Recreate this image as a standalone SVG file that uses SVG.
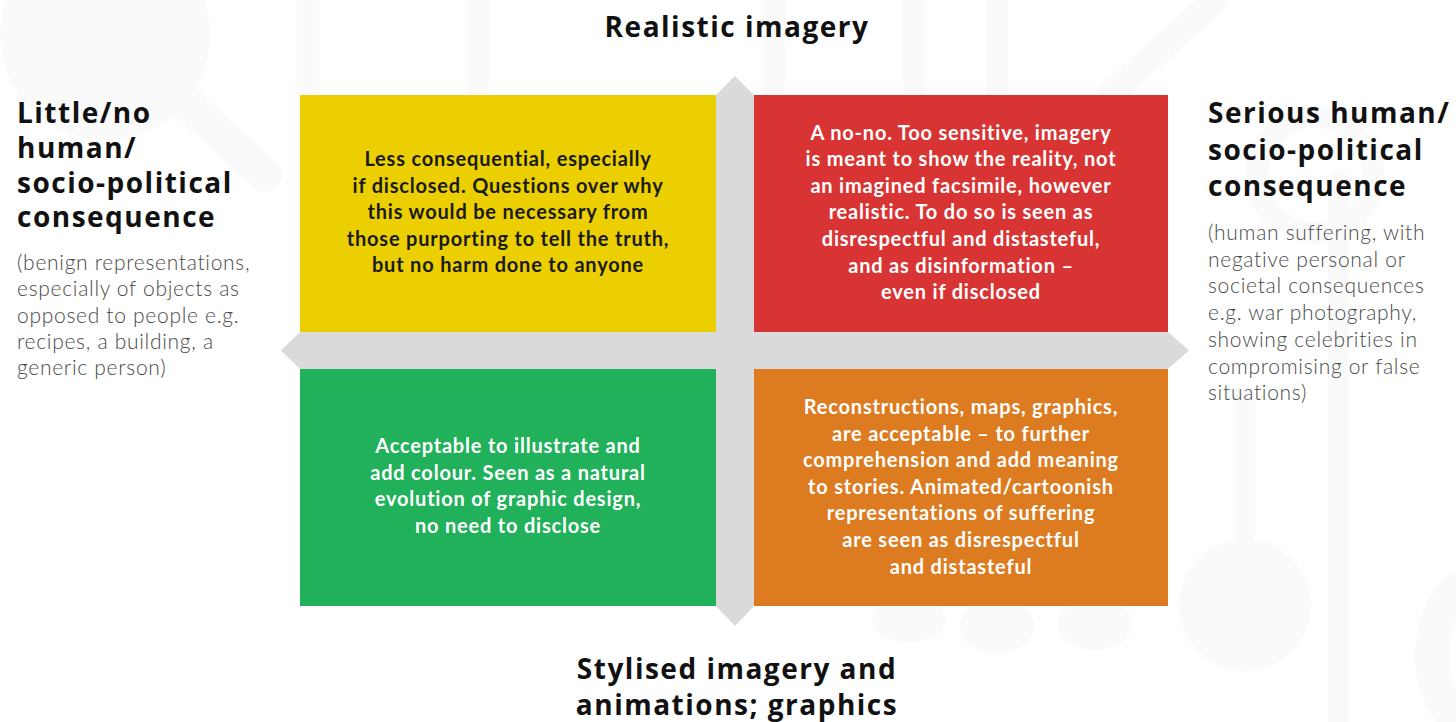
<svg xmlns="http://www.w3.org/2000/svg" width="1456" height="722" viewBox="0 0 1456 722">
  <style>
    .bg { fill: #ffffff; }
    .wm { fill: none; stroke: #fafafb; stroke-linecap: round; }
    .wmf { fill: #fafafb; }
    .axis { fill: #dadada; }
    .head { font-family: "Open Sans", "Liberation Sans", sans-serif; font-weight: 700; font-size: 28px; letter-spacing: 1.5px; fill: #111111; }
    .desc { font-family: "Lato", "Liberation Sans", sans-serif; font-weight: 300; font-size: 21px; letter-spacing: 0.7px; fill: #4a4a4a; }
    .box text { font-family: "Lato", "Liberation Sans", sans-serif; font-weight: 700; font-size: 20px; letter-spacing: 0.8px; text-anchor: middle; }
    .dark { fill: #1a1a1a; }
    .light { fill: #ffffff; }
  </style>

  <rect class="bg" x="0" y="0" width="1456" height="722"/>

  <!-- faint circuit watermark behind the matrix -->
  <g id="watermark">
    <circle class="wmf" cx="105" cy="35" r="105"/>
    <path class="wm" d="M150 70 L265 175" stroke-width="34"/>
    <line class="wm" x1="308" y1="0" x2="308" y2="95" stroke-width="22"/>
    <line class="wm" x1="478" y1="0" x2="478" y2="95" stroke-width="22"/>
    <line class="wm" x1="774" y1="0" x2="774" y2="95" stroke-width="22"/>
    <line class="wm" x1="914" y1="0" x2="914" y2="95" stroke-width="22"/>
    <line class="wm" x1="997" y1="0" x2="997" y2="95" stroke-width="22"/>
    <path class="wm" d="M1110 95 L1215 0" stroke-width="26"/>
    <circle class="wm" cx="1315" cy="175" r="58" stroke-width="22"/>
    <line class="wm" x1="1245" y1="400" x2="1245" y2="560" stroke-width="20"/>
    <circle class="wmf" cx="1245" cy="605" r="66"/>
    <line class="wm" x1="1338" y1="180" x2="1338" y2="722" stroke-width="20"/>
    <path class="wm" d="M1456 590 A100 100 0 0 0 1456 720" stroke-width="34"/>
    <ellipse class="wmf" cx="909" cy="620" rx="37" ry="22"/>
    <ellipse class="wmf" cx="997" cy="626" rx="37" ry="28"/>
    <ellipse class="wmf" cx="1095" cy="624" rx="37" ry="26"/>
  </g>

  <!-- axis cross with arrow tips -->
  <g id="connectors">
    <path class="axis" d="M716 95 L735 76 L754 95 L754 332 L1168 332 L1189 350.5 L1168 369 L754 369 L754 606 L735 626 L716 606 L716 369 L300 369 L281 350.5 L300 332 L716 332 Z"/>
  </g>

  <!-- axis labels -->
  <g id="label-top">
    <text class="head" x="737" y="37" text-anchor="middle">Realistic imagery</text>
  </g>
  <g id="label-bottom">
    <text class="head" x="737" y="679" text-anchor="middle">Stylised imagery and</text>
    <text class="head" x="737" y="715" text-anchor="middle">animations; graphics</text>
  </g>
  <g id="label-left">
    <text class="head" x="17" y="123">Little/no</text>
    <text class="head" x="17" y="158">human/</text>
    <text class="head" x="17" y="193">socio-political</text>
    <text class="head" x="17" y="227">consequence</text>
    <text class="desc" x="17" y="270">(benign representations,</text>
    <text class="desc" x="17" y="296">especially of objects as</text>
    <text class="desc" x="17" y="323">opposed to people e.g.</text>
    <text class="desc" x="17" y="349">recipes, a building, a</text>
    <text class="desc" x="17" y="375">generic person)</text>
  </g>
  <g id="label-right">
    <text class="head" x="1208" y="123">Serious human/</text>
    <text class="head" x="1208" y="160">socio-political</text>
    <text class="head" x="1208" y="196">consequence</text>
    <text class="desc" x="1208" y="240">(human suffering, with</text>
    <text class="desc" x="1208" y="267">negative personal or</text>
    <text class="desc" x="1208" y="293">societal consequences</text>
    <text class="desc" x="1208" y="320">e.g. war photography,</text>
    <text class="desc" x="1208" y="347">showing celebrities in</text>
    <text class="desc" x="1208" y="374">compromising or false</text>
    <text class="desc" x="1208" y="400">situations)</text>
  </g>

  <!-- quadrants -->
  <g id="quadrant-yellow" class="box">
    <rect x="300" y="95" width="416" height="237" fill="#ebcf00"/>
    <text class="dark" x="508" y="166">Less consequential, especially</text>
    <text class="dark" x="508" y="193">if disclosed. Questions over why</text>
    <text class="dark" x="508" y="219">this would be necessary from</text>
    <text class="dark" x="508" y="246">those purporting to tell the truth,</text>
    <text class="dark" x="508" y="272">but no harm done to anyone</text>
  </g>
  <g id="quadrant-red" class="box">
    <rect x="754" y="95" width="414" height="237" fill="#d93434"/>
    <text class="light" x="961" y="140">A no-no. Too sensitive, imagery</text>
    <text class="light" x="961" y="166">is meant to show the reality, not</text>
    <text class="light" x="961" y="193">an imagined facsimile, however</text>
    <text class="light" x="961" y="219">realistic. To do so is seen as</text>
    <text class="light" x="961" y="246">disrespectful and distasteful,</text>
    <text class="light" x="961" y="273">and as disinformation –</text>
    <text class="light" x="961" y="299">even if disclosed</text>
  </g>
  <g id="quadrant-green" class="box">
    <rect x="300" y="369" width="416" height="237" fill="#20b15a"/>
    <text class="light" x="508" y="453">Acceptable to illustrate and</text>
    <text class="light" x="508" y="480">add colour. Seen as a natural</text>
    <text class="light" x="508" y="506">evolution of graphic design,</text>
    <text class="light" x="508" y="533">no need to disclose</text>
  </g>
  <g id="quadrant-orange" class="box">
    <rect x="754" y="369" width="414" height="237" fill="#dd7b20"/>
    <text class="light" x="961" y="414">Reconstructions, maps, graphics,</text>
    <text class="light" x="961" y="441">are acceptable – to further</text>
    <text class="light" x="961" y="467">comprehension and add meaning</text>
    <text class="light" x="961" y="494">to stories. Animated/cartoonish</text>
    <text class="light" x="961" y="520">representations of suffering</text>
    <text class="light" x="961" y="547">are seen as disrespectful</text>
    <text class="light" x="961" y="574">and distasteful</text>
  </g>
</svg>
